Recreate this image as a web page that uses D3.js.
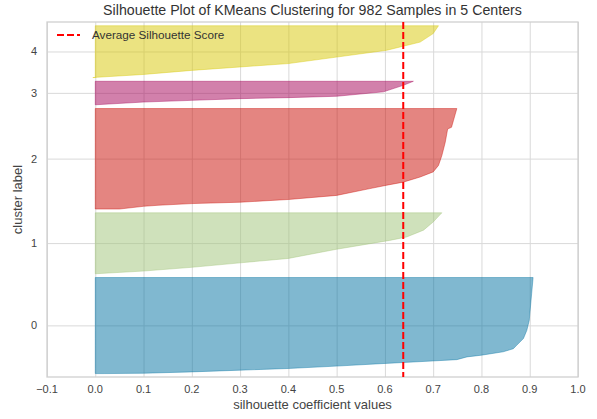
<!DOCTYPE html>
<html>
<head>
<meta charset="utf-8">
<script src="https://cdn.jsdelivr.net/npm/d3@7"></script>
<style>
  html, body { margin: 0; padding: 0; background: #ffffff; }
  svg { display: block; font-family: "Liberation Sans", Arial, sans-serif; }
</style>
</head>
<body>
<svg id="chart" width="597" height="419"></svg>
<script>
// ---- data ----
const title = "Silhouette Plot of KMeans Clustering for 982 Samples in 5 Centers";
const xLabel = "silhouette coefficient values";
const yLabel = "cluster label";
const legendLabel = "Average Silhouette Score";
const clusterLabels = [0, 1, 2, 3, 4];
const clusterSizes = [283, 180, 296, 70, 153];
const clusterColors = ["#0272a2", "#9fc377", "#ca0b03", "#a50258", "#d7c703"];
const averageScore = 0.638;
const xTicks = [-0.1, 0.0, 0.1, 0.2, 0.3, 0.4, 0.5, 0.6, 0.7, 0.8, 0.9, 1.0];

// silhouette outline of each cluster: [rank within sorted cluster, coefficient]
const profile0 = [[0,0.02],[1,0.10],[5,0.20],[10,0.30],[15,0.40],[22,0.50],[29,0.59],[37,0.698],[41,0.749],[49,0.77],[54,0.80],[64,0.845],[73,0.866],[83,0.873],[103,0.887],[127,0.894],[156,0.899],[235,0.904],[282,0.907]];
const profile1 = [[0,0.0],[8,0.10],[19,0.20],[32,0.30],[45,0.40],[72,0.50],[98,0.61],[108,0.645],[128,0.68],[152,0.70],[170,0.712],[179,0.718]];
const profile2 = [[0,0.05],[8,0.10],[11,0.13],[16,0.20],[20,0.30],[28,0.40],[40,0.50],[60,0.569],[70,0.604],[79,0.638],[94,0.673],[109,0.70],[128,0.711],[157,0.718],[196,0.725],[235,0.73],[240,0.738],[260,0.742],[295,0.749]];
const profile3 = [[0,0.0],[8,0.10],[13,0.20],[18,0.30],[21,0.40],[25,0.50],[38,0.597],[57,0.638],[69,0.659]];
const profile4 = [[0,-0.005],[9,0.10],[21,0.20],[31,0.30],[41,0.40],[60,0.50],[80,0.604],[92,0.638],[104,0.673],[129,0.70],[152,0.711]];
const profiles = [profile0, profile1, profile2, profile3, profile4];

// ---- layout ----
const W = 597, H = 419;
const m = { left: 47, right: 19, top: 22, bottom: 42 };
const svg = d3.select("#chart");

// y positions following the silhouette layout (10-sample gaps)
const lowers = [];
let yl = 10;
clusterSizes.forEach(n => { lowers.push(yl); yl += n + 10; });
const yMax = d3.sum(clusterSizes) + (clusterSizes.length + 1) * 10;

const x = d3.scaleLinear().domain([-0.1, 1.0]).range([m.left, W - m.right]);
const y = d3.scaleLinear().domain([0, yMax]).range([H - m.bottom, m.top]);

const textColor = "#444";
const gridColor = "#d9d9d9";

// grid
const g = svg.append("g");
g.append("g").attr("transform", `translate(0,${H - m.bottom})`)
  .call(d3.axisBottom(x).tickValues(xTicks).tickSize(-(H - m.top - m.bottom)).tickFormat(""))
  .call(s => s.select(".domain").remove())
  .call(s => s.selectAll("line").attr("stroke", gridColor).attr("stroke-width", 1));
const yTickVals = clusterSizes.map((n, i) => lowers[i] + 0.5 * n);
g.append("g").attr("transform", `translate(${m.left},0)`)
  .call(d3.axisLeft(y).tickValues(yTickVals).tickSize(-(W - m.left - m.right)).tickFormat(""))
  .call(s => s.select(".domain").remove())
  .call(s => s.selectAll("line").attr("stroke", gridColor).attr("stroke-width", 1));

// silhouettes
const area = d3.area()
  .x0(() => x(0))
  .x1(d => x(d[1]))
  .y(d => y(d.base + d[0]));
profiles.forEach((p, i) => {
  const pts = p.map(d => { const o = [d[0], d[1]]; o.base = lowers[i]; return o; });
  svg.append("path")
    .attr("d", area(pts))
    .attr("fill", clusterColors[i]).attr("fill-opacity", 0.5)
    .attr("stroke", clusterColors[i]).attr("stroke-opacity", 0.5).attr("stroke-width", 0.8);
});

// frame
svg.append("rect")
  .attr("x", m.left).attr("y", m.top)
  .attr("width", W - m.left - m.right).attr("height", H - m.top - m.bottom)
  .attr("fill", "none").attr("stroke", "#d0d0d0").attr("stroke-width", 1.3);

// average line
svg.append("line")
  .attr("x1", x(averageScore)).attr("x2", x(averageScore))
  .attr("y1", y(yMax)).attr("y2", y(0))
  .attr("stroke", "#ff0000").attr("stroke-width", 2).attr("stroke-dasharray", "7,3");

// tick labels
const fmt = d => (d < 0 ? "\u2212" : "") + Math.abs(d).toFixed(1);
svg.append("g").selectAll("text").data(xTicks).join("text")
  .attr("x", d => x(d)).attr("y", H - m.bottom + 16)
  .attr("text-anchor", "middle").attr("font-size", 11).attr("fill", textColor)
  .text(fmt);
svg.append("g").selectAll("text").data(clusterLabels).join("text")
  .attr("x", m.left - 10).attr("y", (d, i) => y(yTickVals[i]) + 4)
  .attr("text-anchor", "end").attr("font-size", 11).attr("fill", textColor)
  .text(d => d);

// titles
svg.append("text").attr("x", (m.left + W - m.right) / 2).attr("y", 14.5)
  .attr("text-anchor", "middle").attr("font-size", 14.2).attr("fill", "#333").text(title);
svg.append("text").attr("x", (m.left + W - m.right) / 2).attr("y", 409)
  .attr("text-anchor", "middle").attr("font-size", 13).attr("fill", textColor).text(xLabel);
svg.append("text")
  .attr("transform", `translate(22,${(m.top + H - m.bottom) / 2}) rotate(-90)`)
  .attr("text-anchor", "middle").attr("font-size", 13).attr("fill", textColor).text(yLabel);

// legend
svg.append("line").attr("x1", 57).attr("x2", 80).attr("y1", 35).attr("y2", 35)
  .attr("stroke", "#ff0000").attr("stroke-width", 2).attr("stroke-dasharray", "7,3");
svg.append("text").attr("x", 92).attr("y", 39).attr("font-size", 11.7).attr("fill", "#333").text(legendLabel);
</script>
</body>
</html>
